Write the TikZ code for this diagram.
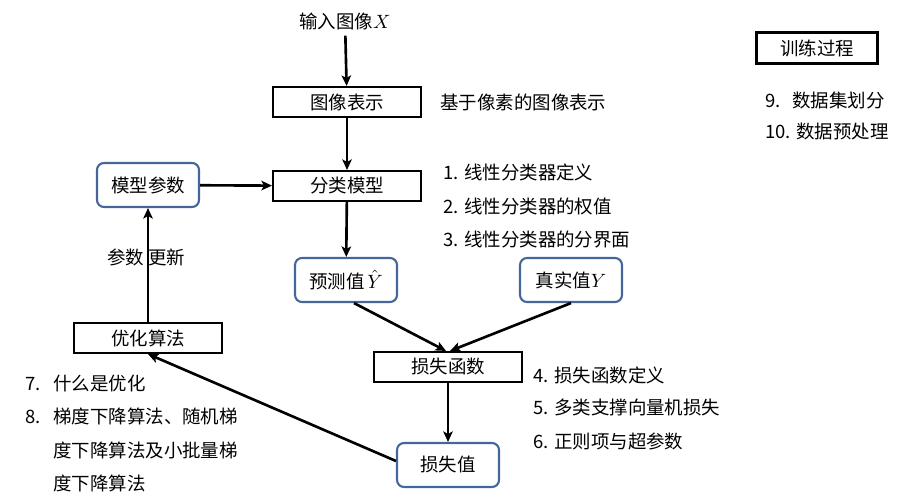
\documentclass[tikz,border=0pt]{standalone}
\usepackage{fontspec}
\setmainfont{Noto Sans CJK SC}
\usepackage{xcolor}
\usetikzlibrary{arrows.meta,calc}
\definecolor{boxblue}{RGB}{68,102,153}
\tikzset{
	stepbox/.style={draw, line width=1.2pt, minimum width=2.96cm, minimum height=0.6cm, inner sep=0pt},
	valbox/.style={draw=boxblue, line width=1.2pt, rounded corners=4pt,
			minimum width=2.04cm, minimum height=0.88cm, inner sep=0pt},
	flow/.style={-{Stealth[length=2.1mm,width=1.9mm,inset=0.5mm]}, line width=1.5pt},
	note/.style={anchor=west, inner sep=0pt}
}

\begin{document}
\begin{tikzpicture}[x=0.02cm, y=-0.02cm, font=\fontsize{10.5pt}{12pt}\selectfont]
        \useasboundingbox (0,0) rectangle (911,503);
        % main flow
        \node (input) at (345,21) {输入图像$X$};
        \node[stepbox] (imgrep) at (347,102) {图像表示};
        \node[stepbox] (classify) at (347,186) {分类模型};
        \node[valbox] (params) at (148,185) {模型参数};
        \node[valbox] (pred) at (346,280) {预测值\kern1.5pt$\hat{Y}$};
        \node[valbox] (truth) at (571,280) {真实值$Y$};
        \node[stepbox] (lossfn) at (448,367) {损失函数};
        \node[valbox] (lossval) at (448,465) {损失值};
        \node[stepbox] (optim) at (148,338) {优化算法};
        \node[stepbox, minimum width=2.42cm, minimum height=0.62cm] (train) at (817,48) {训练过程};
        \draw[flow] (input) -- (imgrep);
        \draw[flow] (imgrep) -- (classify);
        \draw[flow] (params) -- (classify);
        \draw[flow] (classify) -- (pred);
        \draw[flow] ([xshift=0.16cm]pred.south) -- ([xshift=-0.04cm]lossfn.north);
        \draw[flow] (truth.south) -- ([xshift=0.04cm]lossfn.north);
        \draw[flow] (lossfn) -- (lossval);
        \draw[flow] ([yshift=0.08cm]lossval.west) -- (optim.south);
        \draw[flow] (optim) -- (params);
        \node (update) at (146,257) {参数 更新};
        % side notes
        \node[note] (n0) at (440,102) {基于像素的图像表示};
        \node[note] (n1) at (443,172) {1. 线性分类器定义};
        \node[note] (n2) at (443,206) {2. 线性分类器的权值};
        \node[note] (n3) at (443,240) {3. 线性分类器的分界面};
        \node[note] (n4) at (533,375) {4. 损失函数定义};
        \node[note] (n5) at (533,408) {5. 多类支撑向量机损失};
        \node[note] (n6) at (533,441) {6. 正则项与超参数};
        \node[note] (n7) at (25,383) {\makebox[0.56cm][l]{7.}什么是优化};
        \node[note] (n8a) at (25,416) {\makebox[0.56cm][l]{8.}梯度下降算法、随机梯};
        \node[note] (n8b) at (53,450) {度下降算法及小批量梯};
        \node[note] (n8c) at (53,483) {度下降算法};
        \node[note] (n9) at (765,100) {\makebox[0.54cm][l]{9.}数据集划分};
        \node[note] (n10) at (765,132) {10. 数据预处理};
    \end{tikzpicture}
\end{document}
